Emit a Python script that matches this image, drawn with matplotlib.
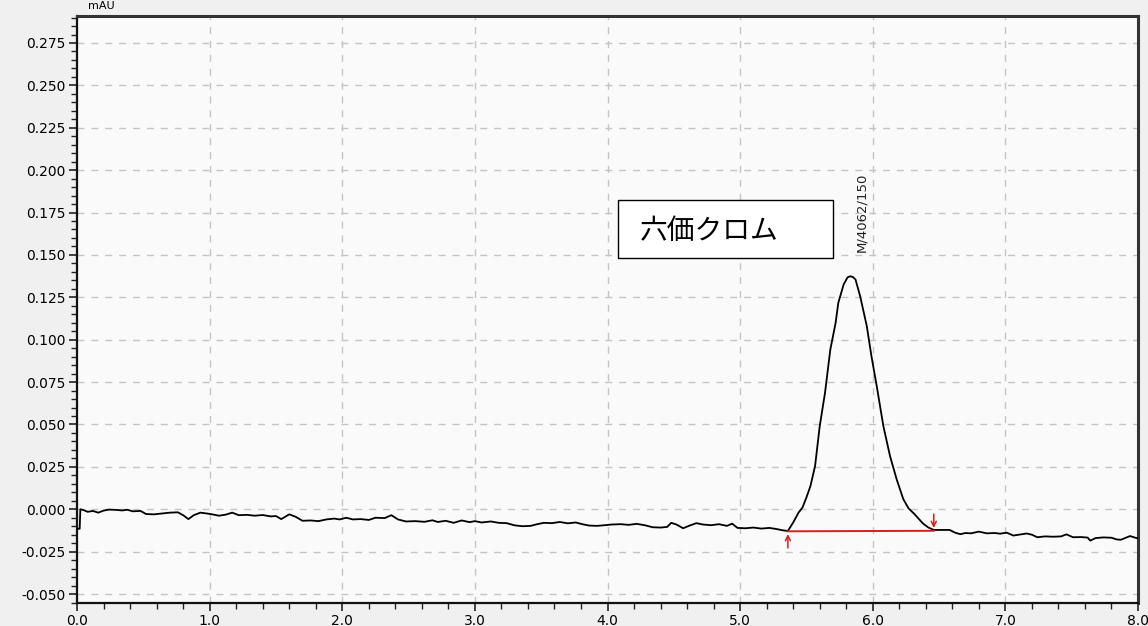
import matplotlib.pyplot as plt
from matplotlib.ticker import MultipleLocator, FormatStrFormatter
from matplotlib.patches import Rectangle

plt.rcParams['font.family'] = ['DejaVu Sans']

# chromatogram trace (retention time in min, absorbance in mAU)
t = [0.000, 0.020, 0.025, 0.05, 0.08, 0.12, 0.16, 0.20, 0.24, 0.30, 0.34, 0.38,
     0.42, 0.48, 0.52, 0.58, 0.64, 0.70, 0.76, 0.80, 0.84, 0.88, 0.93, 0.98,
     1.02, 1.07, 1.12, 1.17, 1.22, 1.28, 1.34, 1.40, 1.46, 1.50, 1.54, 1.60,
     1.65, 1.70, 1.76, 1.82, 1.88, 1.94, 1.98, 2.03, 2.08, 2.14, 2.20, 2.25,
     2.32, 2.37, 2.42, 2.48, 2.55, 2.62, 2.68, 2.72, 2.78, 2.84, 2.90, 2.96,
     3.00, 3.05, 3.12, 3.18, 3.24, 3.30, 3.36, 3.42, 3.47, 3.52, 3.58, 3.64,
     3.70, 3.76, 3.81, 3.86, 3.92, 3.98, 4.03, 4.10, 4.16, 4.22, 4.28, 4.34,
     4.40, 4.45, 4.48, 4.52, 4.57, 4.62, 4.67, 4.72, 4.78, 4.84, 4.90, 4.94,
     4.98, 5.04, 5.10, 5.16, 5.22, 5.27, 5.32, 5.36,
     5.40, 5.44, 5.47, 5.50, 5.53, 5.565, 5.60, 5.64, 5.68, 5.72, 5.74, 5.78,
     5.81, 5.83, 5.85, 5.87, 5.905, 5.955, 5.99, 6.03, 6.08, 6.13, 6.18, 6.23,
     6.27, 6.31, 6.38, 6.42, 6.46,
     6.52, 6.58, 6.62, 6.66, 6.70, 6.74, 6.80, 6.86, 6.92, 6.96, 7.01, 7.06,
     7.10, 7.16, 7.20, 7.24, 7.30, 7.36, 7.42, 7.46, 7.51, 7.57, 7.62, 7.64,
     7.68, 7.74, 7.80, 7.84, 7.87, 7.94, 7.98, 8.00]
mau = [-0.0115, -0.0115, 0.0000, -0.0005, -0.0015, -0.0010, -0.0020, -0.0008, -0.0002, -0.0004, -0.0007, -0.0003,
       -0.0012, -0.0010, -0.0028, -0.0030, -0.0025, -0.0020, -0.0018, -0.0035, -0.0058, -0.0035, -0.0020, -0.0025,
       -0.0030, -0.0038, -0.0032, -0.0020, -0.0035, -0.0033, -0.0038, -0.0034, -0.0042, -0.0040, -0.0058, -0.0030,
       -0.0045, -0.0068, -0.0066, -0.0070, -0.0060, -0.0055, -0.0060, -0.0050, -0.0060, -0.0058, -0.0063, -0.0050,
       -0.0052, -0.0035, -0.0060, -0.0072, -0.0070, -0.0074, -0.0065, -0.0075, -0.0068, -0.0080, -0.0066, -0.0076,
       -0.0070, -0.0078, -0.0072, -0.0080, -0.0082, -0.0095, -0.0100, -0.0098, -0.0088, -0.0080, -0.0082, -0.0075,
       -0.0083, -0.0078, -0.0088, -0.0096, -0.0098, -0.0094, -0.0090, -0.0088, -0.0092, -0.0086, -0.0094, -0.0106,
       -0.0108, -0.0104, -0.0080, -0.0090, -0.0112, -0.0096, -0.0082, -0.0090, -0.0094, -0.0088, -0.0098, -0.0085,
       -0.0110, -0.0112, -0.0108, -0.0114, -0.0110, -0.0116, -0.0124, -0.0128,
       -0.0078, -0.0020, 0.0010, 0.0070, 0.0137, 0.0255, 0.0490, 0.0687, 0.0942, 0.1100, 0.1217, 0.1325,
       0.1368, 0.1374, 0.1370, 0.1355, 0.1256, 0.1080, 0.0903, 0.0726, 0.0490, 0.0314, 0.0177, 0.0060,
       0.0005, -0.0025, -0.0085, -0.0108, -0.0122,
       -0.0122, -0.0122, -0.0138, -0.0147, -0.0140, -0.0142, -0.0132, -0.0142, -0.0140, -0.0144, -0.0138, -0.0155,
       -0.0150, -0.0143, -0.0150, -0.0165, -0.0160, -0.0162, -0.0160, -0.0148, -0.0165, -0.0164, -0.0167, -0.0185,
       -0.0170, -0.0166, -0.0168, -0.0178, -0.0180, -0.0158, -0.0168, -0.0172]

# integration baseline of the peak
peak_start = (5.36, -0.0130)
peak_end = (6.46, -0.0127)
peak_label = 'M/4062/150'
peak_label_pos = (5.92, 0.152)
compound = '六価クロム'

fig = plt.figure(figsize=(11.48, 6.26), dpi=100, facecolor='#f0f0f0')
ax = fig.add_axes([0.0671, 0.0367, 0.9242, 0.9377])
ax.set_facecolor('#fafafa')

ax.plot(t, mau, color='black', lw=1.3, zorder=3)
ax.plot([peak_start[0], peak_end[0]], [peak_start[1], peak_end[1]],
        color='#d42020', lw=1.4, zorder=4)
# start / end markers
ax.annotate('', xy=peak_start, xytext=(0, -14), textcoords='offset points',
            arrowprops=dict(arrowstyle='->', color='#d42020', lw=1.1, mutation_scale=9), zorder=4)
ax.annotate('', xy=peak_end, xytext=(0, 14), textcoords='offset points',
            arrowprops=dict(arrowstyle='->', color='#d42020', lw=1.1, mutation_scale=9), zorder=4)

ax.text(peak_label_pos[0], peak_label_pos[1], peak_label, rotation=90,
        ha='center', va='bottom', fontsize=9.5, color='#222222')

ax.set_xlim(0, 8.0)
ax.set_ylim(-0.0553, 0.2909)
ax.xaxis.set_major_locator(MultipleLocator(1.0))
ax.xaxis.set_minor_locator(MultipleLocator(0.2))
ax.yaxis.set_major_locator(MultipleLocator(0.025))
ax.yaxis.set_minor_locator(MultipleLocator(0.005))
ax.xaxis.set_major_formatter(FormatStrFormatter('%.1f'))
ax.yaxis.set_major_formatter(FormatStrFormatter('%.3f'))
ax.tick_params(which='major', length=6, width=1.2, labelsize=10, pad=2, color='#222222')
ax.tick_params(which='minor', length=4, width=1.0, color='#222222')
ax.grid(True, which='major', color='#c4c4c4', linestyle=(0, (5, 5)), lw=1.0)
ax.set_axisbelow(True)
for side in ['left', 'bottom']:
    ax.spines[side].set_linewidth(1.6)
    ax.spines[side].set_color('#111111')
for side in ['top', 'right']:
    ax.spines[side].set_linewidth(2.2)
    ax.spines[side].set_color('#333333')

# compound name box
fig.patches.append(Rectangle((618 / 1148, 1 - 258 / 626), 215 / 1148, 58 / 626,
                             transform=fig.transFigure, facecolor='white',
                             edgecolor='black', lw=1.0, zorder=5))
fig.text(640 / 1148, 1 - 231 / 626, compound, fontsize=20, va='center', ha='left',
         family=['Noto Sans CJK JP', 'DejaVu Sans'], zorder=6)

# unit label above the y axis
fig.text(88 / 1148, 1 - 1 / 626, 'mAU', fontsize=8, va='top', ha='left')

fig.savefig('out.png', dpi=100, facecolor=fig.get_facecolor())
